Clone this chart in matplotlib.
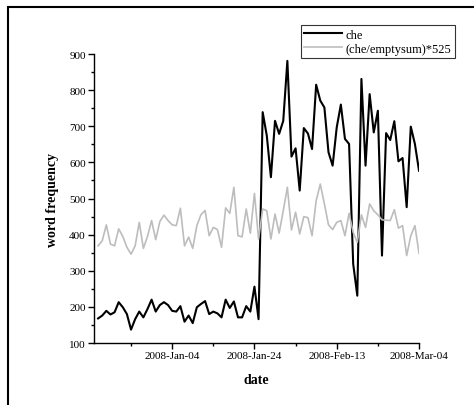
import numpy as np
import matplotlib
matplotlib.use("Agg")
import matplotlib.pyplot as plt
import matplotlib.dates as mdates
from matplotlib.ticker import AutoMinorLocator, MultipleLocator
from matplotlib.patches import Rectangle

plt.rcParams['font.family'] = ['Liberation Serif', 'DejaVu Serif']

dates = np.arange('2007-12-17', '2008-03-05', dtype='datetime64[D]')

che = [168, 176, 189, 179, 185, 213, 199, 180, 137, 166,
       187, 171, 194, 220, 187, 205, 213, 205, 189, 187,
       202, 159, 176, 155, 199, 208, 216, 180, 187, 182,
       171, 220, 197, 215, 171, 171, 202, 187, 256, 166,
       739, 674, 559, 715, 679, 715, 881, 616, 639, 522,
       695, 680, 637, 815, 771, 752, 628, 591, 697, 760,
       665, 651, 319, 231, 831, 591, 789, 683, 743, 342,
       681, 662, 714, 603, 612, 476, 699, 651, 577]

che_norm = [369, 383, 427, 374, 369, 416, 395, 365, 346, 369,
            434, 362, 395, 439, 386, 436, 454, 439, 427, 425,
            473, 369, 393, 362, 425, 455, 467, 397, 420, 414,
            365, 474, 459, 531, 397, 394, 471, 404, 514, 388,
            471, 466, 388, 457, 404, 466, 531, 413, 462, 402,
            450, 447, 397, 494, 540, 485, 427, 414, 434, 439,
            397, 459, 406, 379, 455, 420, 485, 466, 455, 441,
            440, 439, 469, 418, 425, 342, 397, 425, 348]

tick_dates = np.array(['2008-01-04', '2008-01-24', '2008-02-13', '2008-03-04'],
                      dtype='datetime64[D]')

fig = plt.figure(figsize=(4.74, 4.06), dpi=100)
ax = fig.add_axes([0.1983, 0.1527, 0.6857, 0.7118])

l1, = ax.plot(dates, che, color='black', lw=1.5)
l2, = ax.plot(dates, che_norm, color='#bdbdbd', lw=1.2)

ax.set_xlim(np.datetime64('2007-12-16'), np.datetime64('2008-03-04'))
ax.set_ylim(100, 900)
ax.set_xticks(tick_dates)
ax.xaxis.set_major_formatter(mdates.DateFormatter('%Y-%b-%d'))
ax.xaxis.set_minor_locator(AutoMinorLocator(2))
ax.yaxis.set_major_locator(MultipleLocator(100))
ax.yaxis.set_minor_locator(MultipleLocator(50))

for s in ['top', 'right']:
    ax.spines[s].set_visible(False)
for s in ['left', 'bottom']:
    ax.spines[s].set_linewidth(1.0)
ax.tick_params(which='major', direction='out', length=4, width=1, labelsize=8, pad=2)
ax.tick_params(which='minor', direction='out', length=2, width=1)

ax.set_xlabel('date', fontsize=10, fontweight='bold', labelpad=9)
ax.set_ylabel('word frequency', fontsize=10, fontweight='bold', labelpad=7)

leg = fig.legend([l1, l2], ['che', '(che/emptysum)*525'],
                 loc='upper right', bbox_to_anchor=(455 / 474, 1 - 26 / 406),
                 fontsize=9, frameon=True, fancybox=False, edgecolor='black',
                 handlelength=3, handletextpad=0.3, borderpad=0.3,
                 labelspacing=0.15, borderaxespad=0)
leg.get_frame().set_linewidth(0.8)

fig.patches.append(Rectangle((8 / 474, -0.1), 1.2, 1.1 - 7.5 / 406,
                             transform=fig.transFigure, fill=False,
                             edgecolor='black', lw=1.5))

fig.savefig('out.png', dpi=100)
